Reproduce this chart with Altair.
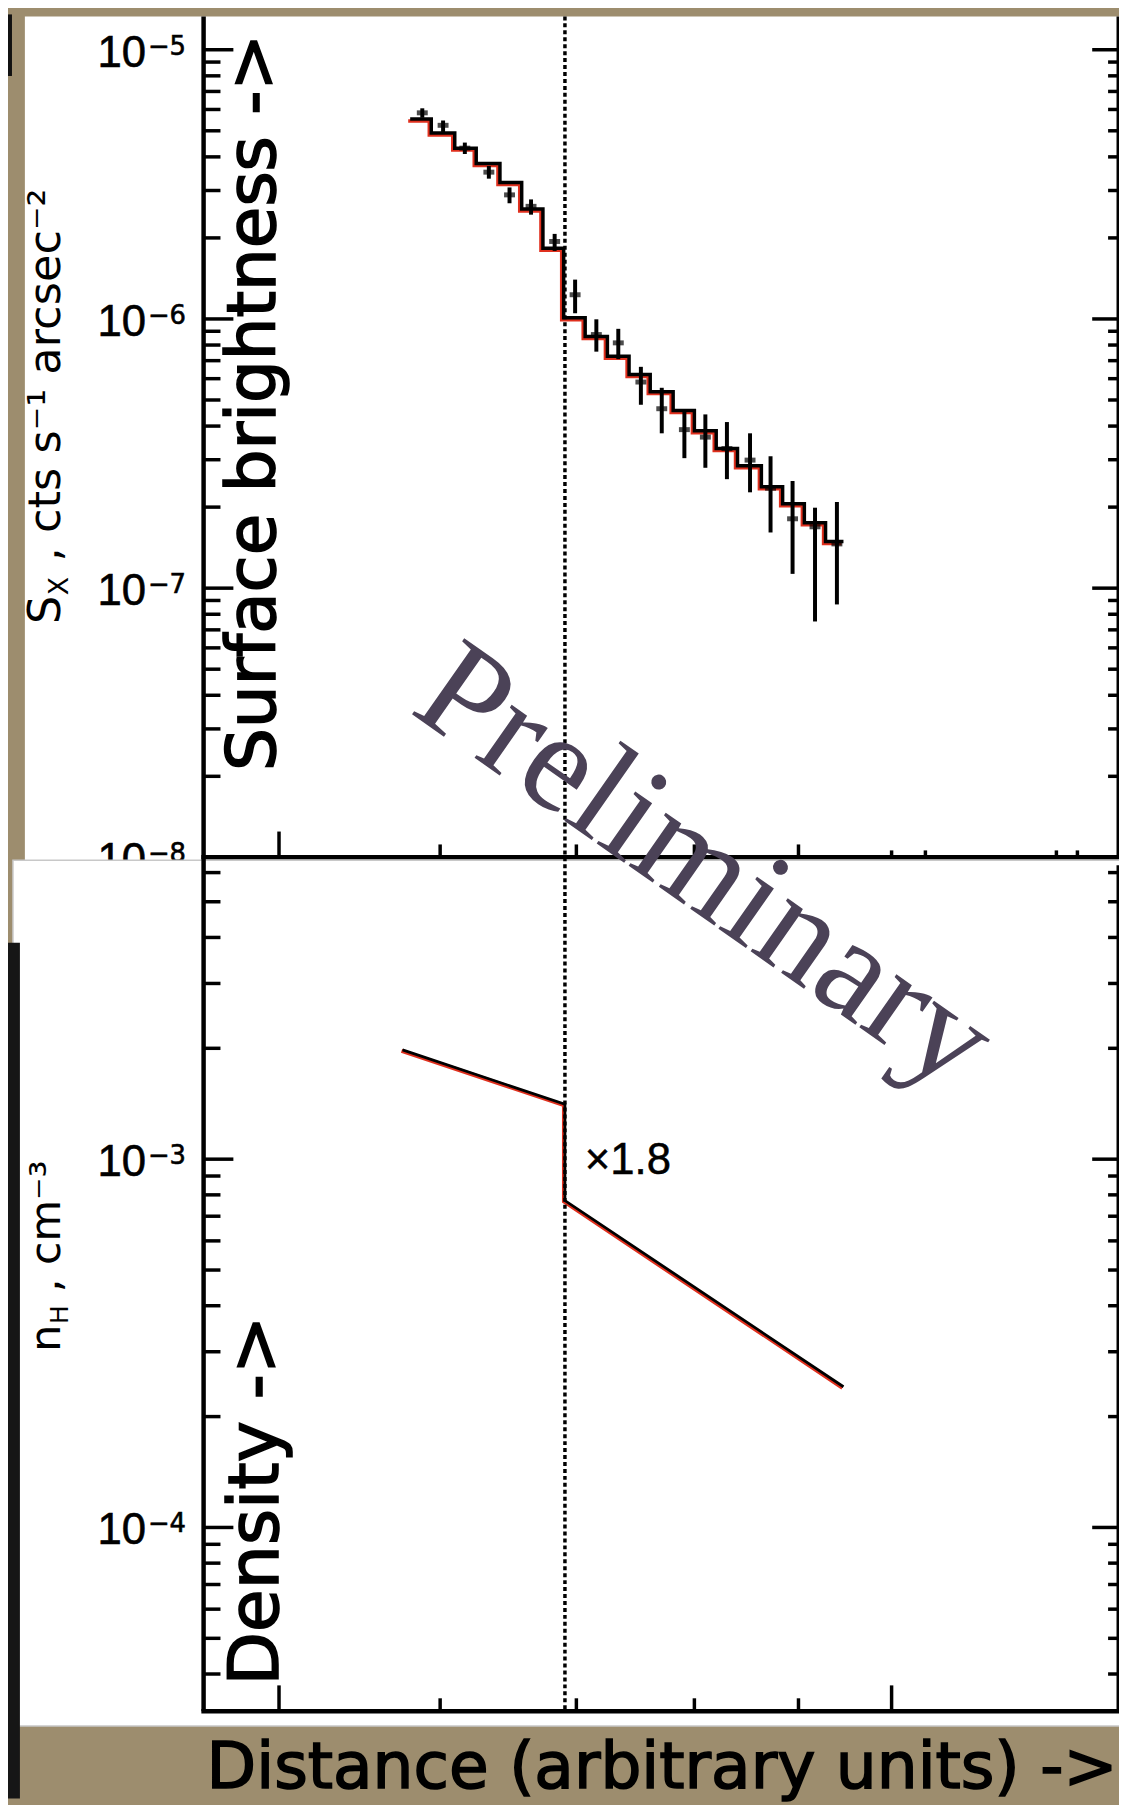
import altair as alt
import pandas as pd

# ---------------- data ----------------
# surface-brightness profile: histogram model (bin edges, value per bin)
bin_edges = [5.80, 5.94, 6.10, 6.25, 6.42, 6.58, 6.74, 6.90, 7.07, 7.25, 7.43,
             7.61, 7.81, 8.00, 8.20, 8.40, 8.63, 8.84, 9.06, 9.28, 9.47]
model_sb = [5.53e-6, 4.91e-6, 4.31e-6, 3.78e-6, 3.21e-6, 2.56e-6, 1.83e-6,
            1.01e-6, 8.61e-7, 7.27e-7, 6.22e-7, 5.37e-7, 4.57e-7, 3.84e-7,
            3.30e-7, 2.85e-7, 2.38e-7, 2.06e-7, 1.75e-7, 1.49e-7]
# measured points with error bars
point_x = [5.88, 6.02, 6.17, 6.34, 6.49, 6.65, 6.83, 6.99, 7.16, 7.34,
           7.53, 7.71, 7.91, 8.10, 8.30, 8.52, 8.72, 8.94, 9.17, 9.40]
point_sb = [5.83e-6, 5.24e-6, 4.31e-6, 3.51e-6, 2.89e-6, 2.62e-6, 1.94e-6,
            1.23e-6, 8.75e-7, 8.15e-7, 5.83e-7, 4.64e-7, 3.88e-7, 3.64e-7,
            3.30e-7, 2.99e-7, 2.35e-7, 1.81e-7, 1.69e-7, 1.46e-7]
err_low = [5.59e-6, 4.95e-6, 4.10e-6, 3.32e-6, 2.69e-6, 2.44e-6, 1.79e-6,
           1.05e-6, 7.56e-7, 7.09e-7, 4.80e-7, 3.76e-7, 3.04e-7, 2.80e-7,
           2.54e-7, 2.27e-7, 1.61e-7, 1.13e-7, 7.52e-8, 8.70e-8]
err_high = [6.06e-6, 5.46e-6, 4.52e-6, 3.70e-6, 3.08e-6, 2.78e-6, 2.07e-6,
            1.40e-6, 9.97e-7, 9.19e-7, 6.64e-7, 5.55e-7, 4.57e-7, 4.42e-7,
            4.14e-7, 3.76e-7, 3.09e-7, 2.50e-7, 1.99e-7, 2.09e-7]

# density model (broken power law with a jump)
density_x = [5.75, 6.91, 6.91, 9.47]
density_nh = [1.98e-3, 1.41e-3, 7.72e-4, 2.41e-4]
shock_x = [6.91]
jump_label = ["×1.8"]

# axes
x_domain = [4.591, 12.92]
sb_domain = [1e-8, 1.33e-5]
nh_domain = [3.17e-5, 6.28e-3]

sb_major = [1e-8, 1e-7, 1e-6, 1e-5]
sb_minor = [2e-8, 3e-8, 4e-8, 5e-8, 6e-8, 7e-8, 8e-8, 9e-8,
            2e-7, 3e-7, 4e-7, 5e-7, 6e-7, 7e-7, 8e-7, 9e-7,
            2e-6, 3e-6, 4e-6, 5e-6, 6e-6, 7e-6, 8e-6, 9e-6]
sb_label_vals = [1e-5, 1e-6, 1e-7, 1e-8]
sb_label_base = ["10", "10", "10", "10"]
sb_label_exp = ["−5", "−6", "−7", "−8"]

nh_major = [1e-4, 1e-3]
nh_minor = [4e-5, 5e-5, 6e-5, 7e-5, 8e-5, 9e-5,
            2e-4, 3e-4, 4e-4, 5e-4, 6e-4, 7e-4, 8e-4, 9e-4,
            2e-3, 3e-3, 4e-3, 5e-3, 6e-3]
nh_label_vals = [1e-3, 1e-4]
nh_label_base = ["10", "10"]
nh_label_exp = ["−3", "−4"]

x_major_top = [5]
x_minor_top = [6, 7, 8, 9]
x_short_top = [10, 10.39, 12.05, 12.34]
x_major_bot = [5, 10]
x_minor_bot = [6, 7, 8, 9]

# ---------------- layout constants (pixels, relative to plot origin) ----------------
W = 921
H = 1707
TOP_BOTTOM = 847
BOT_TOP = 855
INK = "black"
RED = "#e0301e"
TAN = "#9d8d6e"


def xsc(s=0):
    return alt.Scale(type="log", domain=x_domain, range=[s, W + s], nice=False)


def sbsc(s=0):
    return alt.Scale(type="log", domain=sb_domain, range=[TOP_BOTTOM + s, s], nice=False)


def nhsc(s=0):
    return alt.Scale(type="log", domain=nh_domain, range=[H + s, BOT_TOP + s], nice=False)


one = pd.DataFrame({"a": [0]})


def box(x1, x2, y1, y2, fill, stroke=None):
    kw = {"fill": fill}
    if stroke:
        kw.update(stroke=stroke, strokeWidth=1.5)
    return alt.Chart(one).mark_rect(**kw).encode(
        x=alt.value(x1), x2=alt.value(x2), y=alt.value(y1), y2=alt.value(y2))


def note(text, x, y, **kw):
    return alt.Chart(pd.DataFrame({"t": [text]})).mark_text(**kw).encode(
        text="t:N", x=alt.value(x), y=alt.value(y))


def yticks(vals, scale, x1, x2, w=3.5):
    return alt.Chart(pd.DataFrame({"v": vals})).mark_rule(color=INK, strokeWidth=w).encode(
        y=alt.Y("v:Q", scale=scale, axis=None), x=alt.value(x1), x2=alt.value(x2))


def xticks(vals, ybase, length, w=3.5):
    return alt.Chart(pd.DataFrame({"v": vals})).mark_rule(color=INK, strokeWidth=w).encode(
        x=alt.X("v:Q", scale=xsc(), axis=None), y=alt.value(ybase), y2=alt.value(ybase - length))


def ylabels(vals, base, exp, scale):
    df = pd.DataFrame({"v": vals, "b": base, "e": exp})
    b = alt.Chart(df).mark_text(align="right", baseline="alphabetic", dy=17, fontSize=44,
                                font="Liberation Sans", color=INK, stroke=INK, strokeWidth=0.6).encode(
        y=alt.Y("v:Q", scale=scale, axis=None), x=alt.value(-58), text="b:N")
    e = alt.Chart(df).mark_text(align="left", baseline="alphabetic", dy=5, fontSize=26,
                                font="DejaVu Sans", color=INK, stroke=INK, strokeWidth=0.6).encode(
        y=alt.Y("v:Q", scale=scale, axis=None), x=alt.value(-56), text="e:N")
    return [b, e]


BIG = dict(font="DejaVu Sans", color=INK, stroke=INK, strokeWidth=1.6)

layers = []

# white card of the upper plot
layers.append(box(-180, W + 4, 0, 852, "white"))

# ---- surface brightness panel ----
step_df = pd.DataFrame({"x": bin_edges, "y": model_sb + [model_sb[-1]]})
layers.append(alt.Chart(step_df).mark_line(interpolate="step-after", color=RED, strokeWidth=3.5).encode(
    x=alt.X("x:Q", scale=xsc(-2), axis=None), y=alt.Y("y:Q", scale=sbsc(2), axis=None)))
layers.append(alt.Chart(step_df).mark_line(interpolate="step-after", color=INK, strokeWidth=3.5).encode(
    x=alt.X("x:Q", scale=xsc(), axis=None), y=alt.Y("y:Q", scale=sbsc(), axis=None)))

pts = pd.DataFrame({"x": point_x, "y": point_sb, "lo": err_low, "hi": err_high})
layers.append(alt.Chart(pts).mark_rule(color=INK, strokeWidth=4).encode(
    x=alt.X("x:Q", scale=xsc(), axis=None), y=alt.Y("lo:Q", scale=sbsc(), axis=None), y2="hi:Q"))
layers.append(alt.Chart(pts).mark_tick(color=INK, orient="horizontal", size=11, thickness=5).encode(
    x=alt.X("x:Q", scale=xsc(), axis=None), y=alt.Y("y:Q", scale=sbsc(), axis=None)))

# frame of the upper panel
frame_top = pd.DataFrame({"x1": [x_domain[0]], "x2": [x_domain[1]], "y1": [sb_domain[0]], "y2": [sb_domain[1]]})
layers.append(alt.Chart(frame_top).mark_rule(color=INK, strokeWidth=4.5, strokeCap="square").encode(
    x=alt.X("x1:Q", scale=xsc(), axis=None), x2="x2:Q", y=alt.Y("y1:Q", scale=sbsc(), axis=None)))
layers.append(alt.Chart(frame_top).mark_rule(color=INK, strokeWidth=3).encode(
    x=alt.X("x2:Q", scale=xsc(), axis=None), y=alt.Y("y1:Q", scale=sbsc(), axis=None), y2="y2:Q"))

layers.append(yticks(sb_major, sbsc(), 0, 30))
layers.append(yticks(sb_minor, sbsc(), 0, 17))
layers.append(yticks(sb_major, sbsc(), W - 26, W))
layers.append(yticks(sb_minor, sbsc(), W - 10, W))
layers.append(xticks(x_major_top, TOP_BOTTOM, 26))
layers.append(xticks(x_minor_top, TOP_BOTTOM, 13))
layers.append(xticks(x_short_top, TOP_BOTTOM, 7))
layers += ylabels(sb_label_vals, sb_label_base, sb_label_exp, sbsc())

# y title of the upper panel: S_X , cts s^-1 arcsec^-2
layers.append(note("S", -145, 612, angle=270, align="left", baseline="alphabetic",
                   fontSize=45, font="DejaVu Sans", color=INK))
layers.append(note("X", -145, 612, angle=270, align="left", baseline="alphabetic",
                   dx=29, dy=8, fontSize=27, font="DejaVu Sans", color=INK))
layers.append(note(", cts s⁻¹ arcsec⁻²", -145, 612, angle=270, align="left", baseline="alphabetic",
                   dx=63, fontSize=45, font="DejaVu Sans", color=INK))

# white card of the lower plot
layers.append(box(-192, W + 4, 850, 1722, "white", stroke="#c8c8c8"))
# dark strips on the left of the slide
layers.append(box(-197, -185, 933, 1795, "#161616"))
layers.append(box(-197, -193, -2, 60, "#111111"))

# ---- density panel ----
dens = pd.DataFrame({"x": density_x, "y": density_nh, "i": list(range(len(density_x)))})
layers.append(alt.Chart(dens).mark_line(color=RED, strokeWidth=4).encode(
    x=alt.X("x:Q", scale=xsc(-1), axis=None), y=alt.Y("y:Q", scale=nhsc(1), axis=None), order="i:Q"))
layers.append(alt.Chart(dens).mark_line(color=INK, strokeWidth=2.8).encode(
    x=alt.X("x:Q", scale=xsc(), axis=None), y=alt.Y("y:Q", scale=nhsc(), axis=None), order="i:Q"))

frame_bot = pd.DataFrame({"x1": [x_domain[0]], "x2": [x_domain[1]], "y1": [nh_domain[0]], "y2": [nh_domain[1]]})
layers.append(alt.Chart(frame_bot).mark_rule(color=INK, strokeWidth=4.5, strokeCap="square").encode(
    x=alt.X("x1:Q", scale=xsc(), axis=None), x2="x2:Q", y=alt.Y("y1:Q", scale=nhsc(), axis=None)))
layers.append(alt.Chart(frame_bot).mark_rule(color=INK, strokeWidth=3).encode(
    x=alt.X("x2:Q", scale=xsc(), axis=None), y=alt.Y("y1:Q", scale=nhsc(), axis=None), y2="y2:Q"))
# left axis line through both panels
layers.append(alt.Chart(frame_top).mark_rule(color=INK, strokeWidth=4.5).encode(
    x=alt.X("x1:Q", scale=xsc(), axis=None), y=alt.value(0), y2=alt.value(H)))

layers.append(yticks(nh_major, nhsc(), 0, 30))
layers.append(yticks(nh_minor, nhsc(), 0, 17))
layers.append(yticks(nh_major, nhsc(), W - 26, W))
layers.append(yticks(nh_minor, nhsc(), W - 10, W))
layers.append(xticks(x_major_bot, H, 26))
layers.append(xticks(x_minor_bot, H, 13))
layers += ylabels(nh_label_vals, nh_label_base, nh_label_exp, nhsc())

# y title of the lower panel: n_H , cm^-3
layers.append(note("n", -145, 1345, angle=270, align="left", baseline="alphabetic",
                   fontSize=43, font="DejaVu Sans", color=INK))
layers.append(note("H", -145, 1345, angle=270, align="left", baseline="alphabetic",
                   dx=28, dy=8, fontSize=25, font="DejaVu Sans", color=INK))
layers.append(note(", cm⁻³", -145, 1345, angle=270, align="left", baseline="alphabetic",
                   dx=60, fontSize=43, font="DejaVu Sans", color=INK))

# jump annotation
layers.append(alt.Chart(pd.DataFrame({"x": shock_x, "y": [1e-3], "t": jump_label})).mark_text(
    align="left", baseline="middle", dx=20, dy=2, fontSize=44, font="Liberation Sans",
    color=INK, stroke=INK, strokeWidth=0.5).encode(
    x=alt.X("x:Q", scale=xsc(), axis=None), y=alt.Y("y:Q", scale=nhsc(), axis=None), text="t:N"))

# shock position (dotted line through both panels)
layers.append(alt.Chart(pd.DataFrame({"x": shock_x})).mark_rule(
    color="black", strokeWidth=3.5, strokeDash=[4, 3]).encode(
    x=alt.X("x:Q", scale=xsc(), axis=None), y=alt.value(0), y2=alt.value(H)))

# slide overlay texts
layers.append(note("Surface brightness ->", 72, 760, angle=270, align="left", baseline="alphabetic",
                   fontSize=68, **BIG))
layers.append(note("Density ->", 75, 1681, angle=270, align="left", baseline="alphabetic",
                   fontSize=70, **BIG))
layers.append(note("Distance (arbitrary units) ->", 3, 1784, align="left", baseline="alphabetic",
                   fontSize=65, **BIG))
layers.append(note("Preliminary", 206, 700, angle=35, align="left", baseline="alphabetic",
                   fontSize=142, font="Liberation Serif", color="#4b4257"))

chart = alt.layer(*layers).resolve_scale(x="independent", y="independent").properties(
    width=W, height=H,
    padding={"left": 197, "top": 2, "right": 1, "bottom": 88},
    autosize=alt.AutoSizeParams(type="none"),
    background=TAN,
).configure_view(stroke=None)

chart.save("out.html", embed_options={"renderer": "svg", "actions": False})
